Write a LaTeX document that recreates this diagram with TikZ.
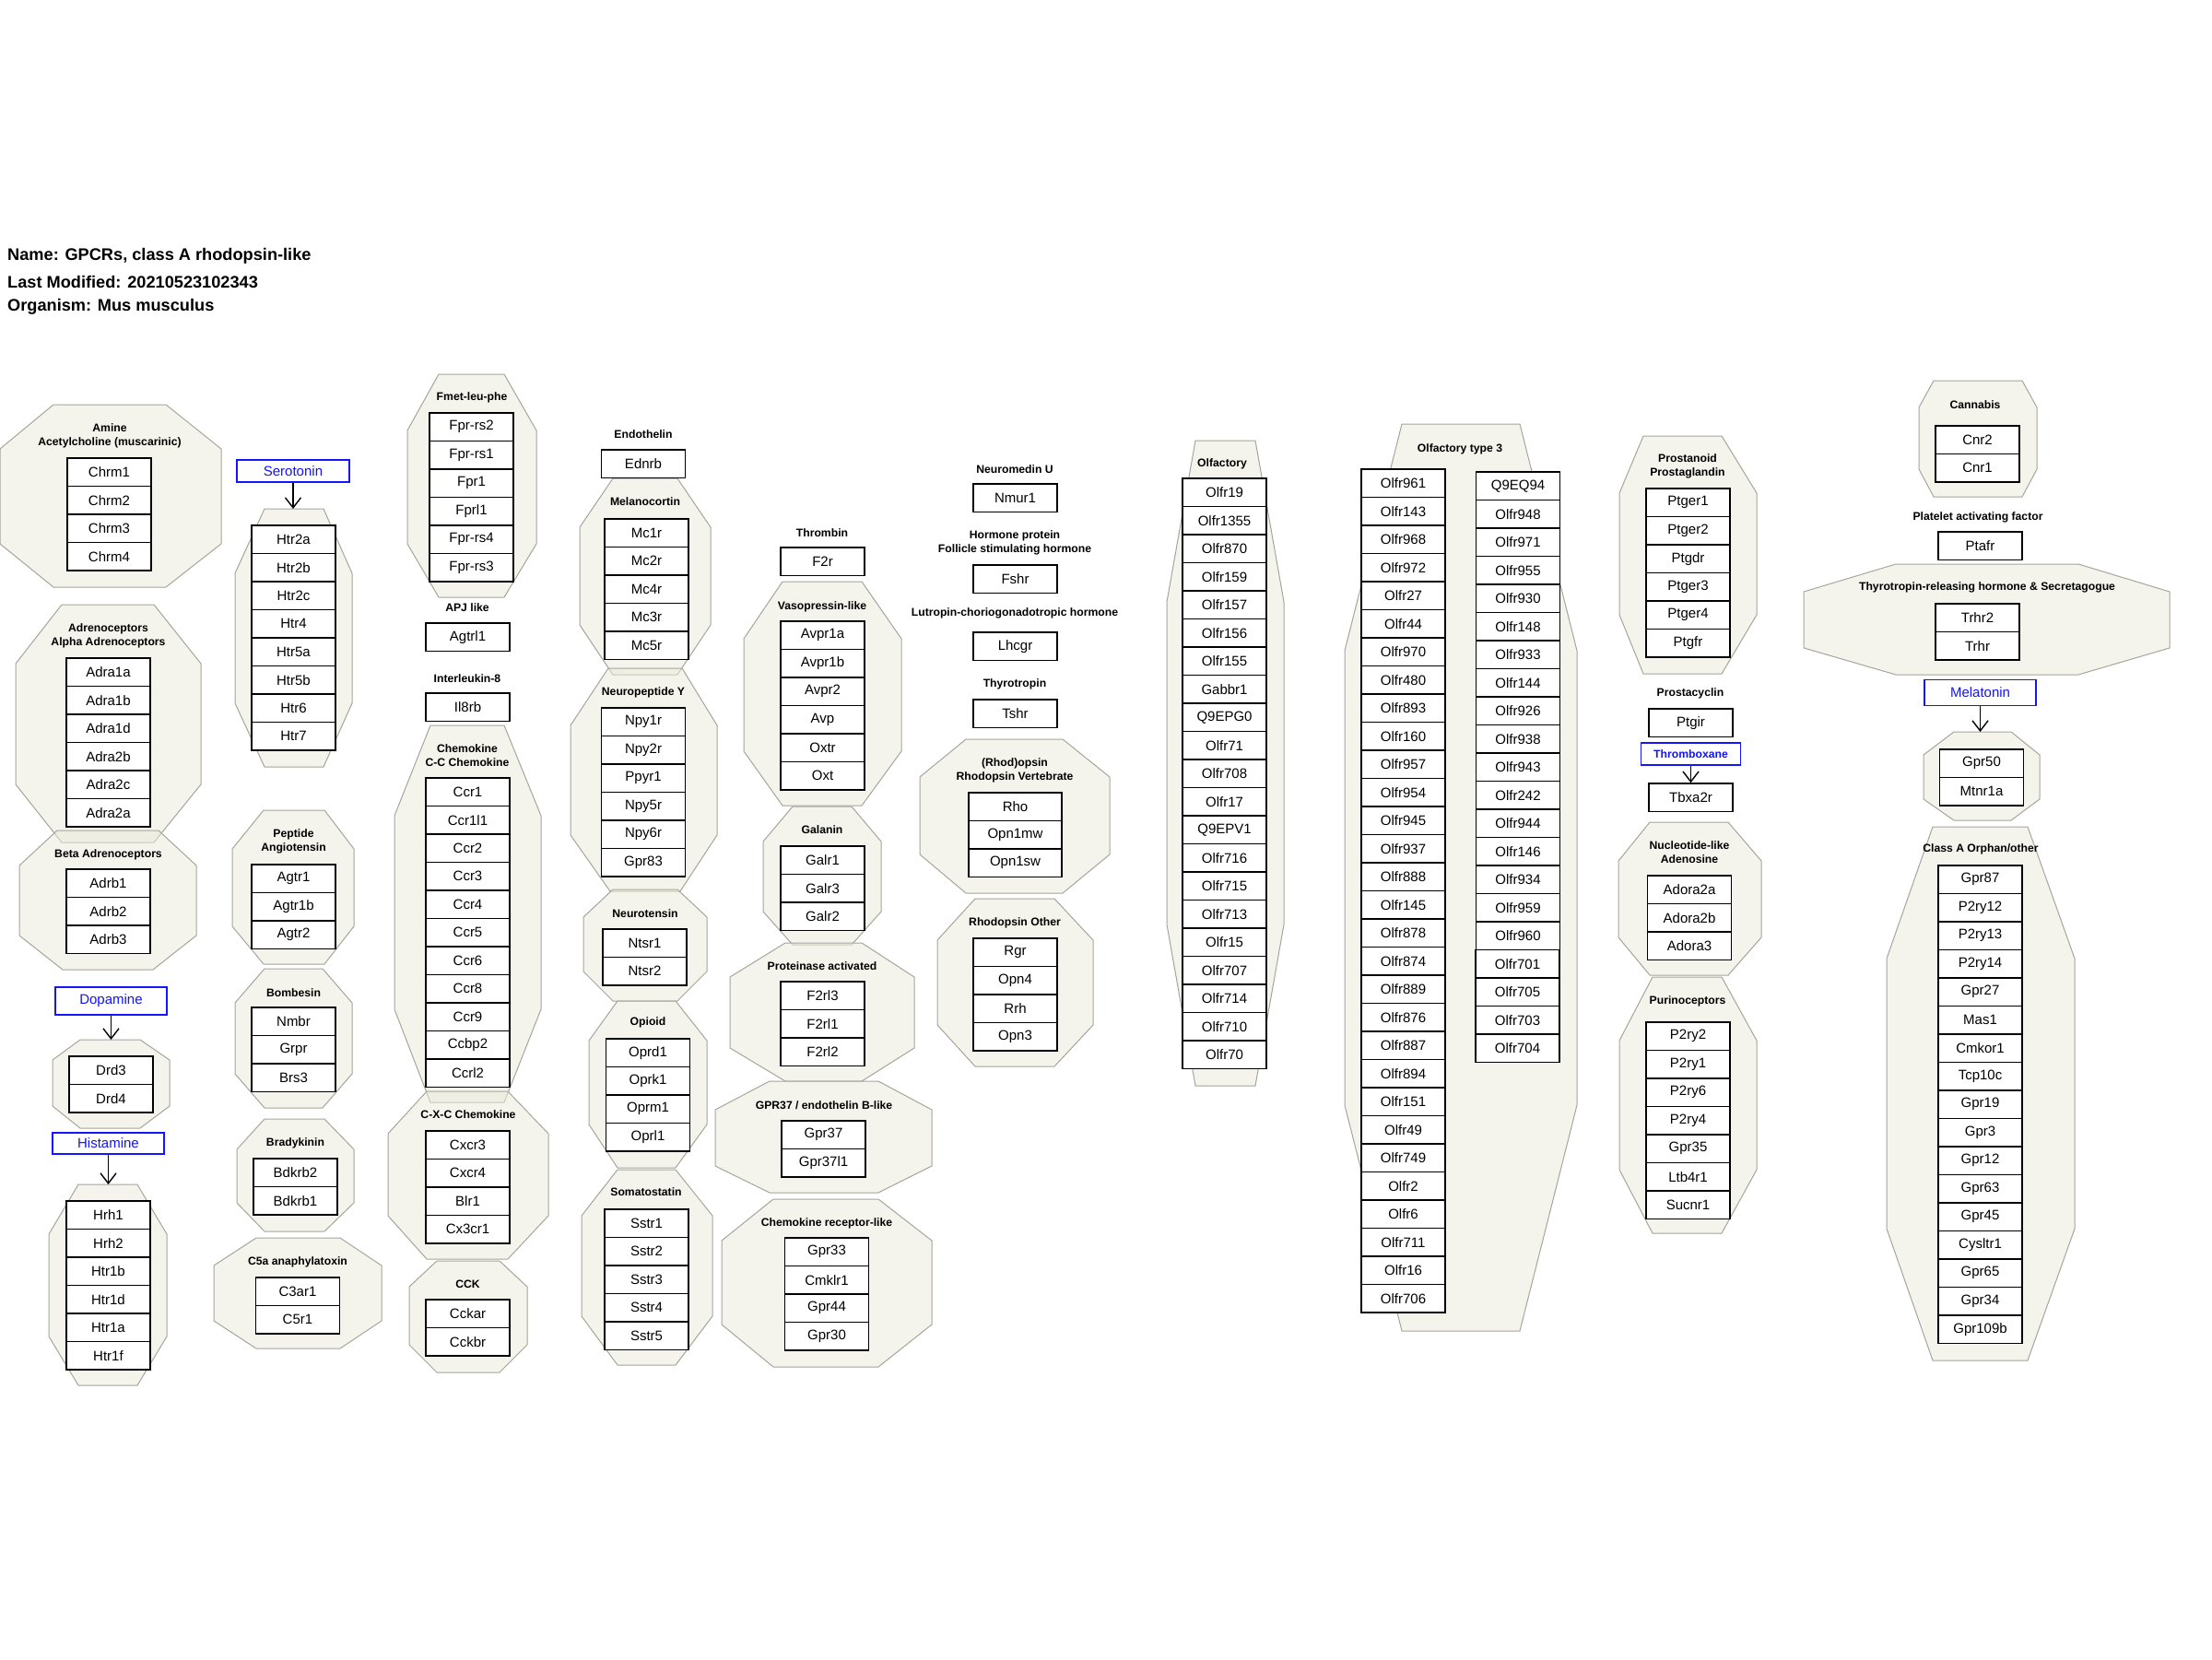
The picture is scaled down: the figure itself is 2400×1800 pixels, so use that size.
\documentclass[tikz,border=0pt]{standalone}
\usepackage{fontspec}
\setmainfont{Liberation Sans}
\usetikzlibrary{arrows.meta}
\definecolor{grpfill}{RGB}{234,234,218}
\definecolor{grpline}{RGB}{165,165,155}
\definecolor{lblblue}{RGB}{20,20,255}
\tikzset{
 grp/.style={fill=grpfill, fill opacity=0.5, draw=grpline, line width=1pt},
 gene/.style={draw=black, fill=white, line width=1.6pt, inner sep=0pt, minimum height=30.5pt, font=\fontsize{15}{15}\selectfont},
 hdr/.style={font=\bfseries\fontsize{12.2}{15}\selectfont, align=center, inner sep=0pt},
 ttl/.style={font=\bfseries\fontsize{18.2}{20}\selectfont, anchor=west, inner sep=0pt},
 lbl/.style={draw=lblblue, text=lblblue, line width=1.3pt, fill=white, inner sep=0pt, font=\fontsize{15}{15}\selectfont},
 link/.style={line width=1.4pt, -{Straight Barb[length=11pt,width=17pt,line width=1.4pt]}}
}
% L R T B tl tr ya yb inset
\newcommand{\octo}[9]{\filldraw[grp] (#5,#3) -- (#6,#3) -- (#2,#7) -- (#2,#8) -- ({#6-#9},#4) -- ({#5+#9},#4) -- (#1,#8) -- (#1,#7) -- cycle;}
% prefix, center x, top y, width, list
\newcommand{\genes}[5]{\foreach \g [count=\i from 0] in {#5} {\node[gene, minimum width=#4pt] (#1-\i) at (#2,{#3+15.25+30.5*\i}) {\g};}}
\begin{document}
\begin{tikzpicture}[x=1pt,y=-1pt]
\fill[white] (0,0) rectangle (2400,1800);
\useasboundingbox (0,0) rectangle (2400,1800);

% title
\node[ttl] (t1) at (8,278) {Name: GPCRs, class A rhodopsin-like};
\node[ttl] (t2) at (8,306) {Last Modified: 20210523102343};
\node[ttl] (t3) at (8,333) {Organism: Mus musculus};

% group octagons
\octo{0}{240}{439}{637}{58}{180}{487}{590}{0}
\octo{17}{218}{656}{914}{67}{167}{720}{851}{0}
\octo{21}{213}{901}{1052}{62}{172}{939}{1015}{6}
\octo{57}{184}{1128}{1224}{87}{152}{1150}{1200}{0}
\octo{53}{181}{1285}{1503}{85}{149}{1339}{1450}{0}
\octo{255}{382}{552}{832}{287}{351}{622}{763}{0}
\octo{252}{384}{879}{1046}{286}{352}{921}{1005}{0}
\octo{255}{382}{1051}{1202}{287}{350}{1088}{1165}{0}
\octo{257}{384}{1214}{1336}{287}{352}{1247}{1305}{0}
\octo{232}{414}{1343}{1463}{278}{369}{1373}{1433}{0}
\octo{442}{582}{406}{648}{476}{547}{467}{590}{0}
\octo{428}{587}{787}{1196}{467}{547}{885}{1095}{0}
\octo{421}{595}{1184}{1366}{463}{551}{1230}{1319}{0}
\octo{444}{572}{1368}{1489}{474}{542}{1396}{1459}{0}
\octo{629}{771}{519}{732}{665}{735}{572}{678}{0}
\octo{619}{778}{725}{967}{660}{740}{787}{906}{2}
\octo{633}{767}{965}{1086}{665}{735}{995}{1054}{0}
\octo{639}{767}{1086}{1267}{670}{733}{1129}{1220}{0}
\octo{631}{773}{1269}{1481}{670}{733}{1319}{1428}{0}
\octo{807}{978}{631}{874}{849}{935}{693}{815}{0}
\octo{828}{956}{875}{1025}{860}{924}{913}{989}{0}
\octo{792}{992}{1023}{1173}{852}{935}{1060}{1137}{0}
\octo{776}{1011}{1173}{1294}{835}{953}{1204}{1265}{0}
\octo{783}{1011}{1301}{1483}{839}{953}{1346}{1437}{0}
\octo{998}{1204}{802}{969}{1048}{1153}{843}{927}{0}
\octo{1017}{1186}{975}{1157}{1058}{1144}{1020}{1112}{0}
\octo{1266}{1393}{478}{1178}{1297}{1362}{653}{1003}{0}
\octo{1459}{1711}{460}{1444}{1521}{1649}{706}{1199}{0}
\octo{1757}{1906}{473}{731}{1783}{1868}{535}{667}{0}
\octo{1756}{1911}{892}{1058}{1790}{1875}{934}{1017}{0}
\octo{1757}{1906}{1060}{1338}{1793}{1868}{1129}{1269}{0}
\octo{2082}{2210}{413}{539}{2098}{2194}{442}{509}{0}
\octo{1957}{2354}{612}{732}{2057}{2255}{642}{703}{0}
\octo{2087}{2213}{794}{890}{2120}{2182}{819}{867}{0}
\octo{2047}{2251}{897}{1476}{2097}{2200}{1040}{1333}{0}

% headers
\node[hdr] (hA) at (119,472.5) {Amine\\Acetylcholine (muscarinic)};
\node[hdr] (hAl) at (117.5,689.5) {Adrenoceptors\\Alpha Adrenoceptors};
\node[hdr] (hB) at (117.5,927) {Beta Adrenoceptors};
\node[hdr] (hPA) at (318.5,913) {Peptide\\Angiotensin};
\node[hdr] (hBo) at (318.5,1077) {Bombesin};
\node[hdr] (hBr) at (320.5,1240) {Bradykinin};
\node[hdr] (hC5) at (323,1369) {C5a anaphylatoxin};
\node[hdr] (hF) at (512,431) {Fmet-leu-phe};
\node[hdr] (hAPJ) at (507,659) {APJ like};
\node[hdr] (hIL) at (507,736) {Interleukin-8};
\node[hdr] (hCC) at (507,819.5) {Chemokine\\C-C Chemokine};
\node[hdr] (hCXC) at (508,1209) {C-X-C Chemokine};
\node[hdr] (hCCK) at (507.5,1393) {CCK};
\node[hdr] (hEn) at (698,471) {Endothelin};
\node[hdr] (hMe) at (700,544) {Melanocortin};
\node[hdr] (hNP) at (698,751) {Neuropeptide Y};
\node[hdr] (hNT) at (700,991) {Neurotensin};
\node[hdr] (hOp) at (703,1109) {Opioid};
\node[hdr] (hSo) at (701,1293) {Somatostatin};
\node[hdr] (hTh) at (892,578) {Thrombin};
\node[hdr] (hVa) at (892,658) {Vasopressin-like};
\node[hdr] (hGa) at (892,900) {Galanin};
\node[hdr] (hPr) at (892,1048) {Proteinase activated};
\node[hdr] (hG37) at (894,1199) {GPR37 / endothelin B-like};
\node[hdr] (hCR) at (897,1327) {Chemokine receptor-like};
\node[hdr] (hNU) at (1101,509) {Neuromedin U};
\node[hdr] (hHP) at (1101,588.5) {Hormone protein\\Follicle stimulating hormone};
\node[hdr] (hLu) at (1101,665) {Lutropin-choriogonadotropic hormone};
\node[hdr] (hTy) at (1101,742) {Thyrotropin};
\node[hdr] (hRV) at (1101,836) {(Rhod)opsin\\Rhodopsin Vertebrate};
\node[hdr] (hRO) at (1101,1001) {Rhodopsin Other};
\node[hdr] (hOl) at (1326,503) {Olfactory};
\node[hdr] (hO3) at (1584,487) {Olfactory type 3};
\node[hdr] (hPP) at (1831,505.5) {Prostanoid\\Prostaglandin};
\node[hdr] (hPc) at (1834,752) {Prostacyclin};
\node[hdr] (hNA) at (1833,925) {Nucleotide-like\\Adenosine};
\node[hdr] (hPu) at (1831,1086) {Purinoceptors};
\node[hdr] (hCa) at (2143,439) {Cannabis};
\node[hdr] (hPl) at (2146,561) {Platelet activating factor};
\node[hdr] (hTR) at (2156,637) {Thyrotropin-releasing hormone \& Secretagogue};
\node[hdr] (hCO) at (2149,921) {Class A Orphan/other};

% gene boxes
\genes{chrm}{118.5}{497}{91}{Chrm1,Chrm2,Chrm3,Chrm4}
\genes{adra}{117.5}{714}{91}{Adra1a,Adra1b,Adra1d,Adra2b,Adra2c,Adra2a}
\genes{adrb}{117.5}{943}{91}{Adrb1,Adrb2,Adrb3}
\genes{drd}{120.5}{1146}{91}{Drd3,Drd4}
\genes{hrh}{117.5}{1303}{91}{Hrh1,Hrh2,Htr1b,Htr1d,Htr1a,Htr1f}
\genes{htr}{318.5}{570}{91}{Htr2a,Htr2b,Htr2c,Htr4,Htr5a,Htr5b,Htr6,Htr7}
\genes{agtr}{318.5}{938}{91}{Agtr1,Agtr1b,Agtr2}
\genes{bomb}{318.5}{1093}{91}{Nmbr,Grpr,Brs3}
\genes{bdk}{320.5}{1257}{91}{Bdkrb2,Bdkrb1}
\genes{c5a}{323}{1386}{91}{C3ar1,C5r1}
\genes{fpr}{511.5}{448}{91}{Fpr-rs2,Fpr-rs1,Fpr1,Fprl1,Fpr-rs4,Fpr-rs3}
\genes{apj}{507.5}{676}{91}{Agtrl1}
\genes{il8}{507.5}{752}{91}{Il8rb}
\genes{ccr}{507.5}{844}{91}{Ccr1,Ccr1l1,Ccr2,Ccr3,Ccr4,Ccr5,Ccr6,Ccr8,Ccr9,Ccbp2,Ccrl2}
\genes{cxcr}{507.5}{1227}{91}{Cxcr3,Cxcr4,Blr1,Cx3cr1}
\genes{cck}{507.5}{1410}{91}{Cckar,Cckbr}
\genes{edn}{698}{488}{91}{Ednrb}
\genes{mc}{701.5}{563}{91}{Mc1r,Mc2r,Mc4r,Mc3r,Mc5r}
\genes{npy}{698}{768}{91}{Npy1r,Npy2r,Ppyr1,Npy5r,Npy6r,Gpr83}
\genes{nts}{699.5}{1008}{91}{Ntsr1,Ntsr2}
\genes{opr}{703}{1127}{91}{Oprd1,Oprk1,Oprm1,Oprl1}
\genes{sst}{701.5}{1312}{91}{Sstr1,Sstr2,Sstr3,Sstr4,Sstr5}
\genes{f2r}{892.5}{594}{91}{F2r}
\genes{avp}{892.5}{674}{91}{Avpr1a,Avpr1b,Avpr2,Avp,Oxtr,Oxt}
\genes{gal}{892.5}{918}{91}{Galr1,Galr3,Galr2}
\genes{f2rl}{892.5}{1065}{91}{F2rl3,F2rl1,F2rl2}
\genes{gpr37}{893.5}{1216}{91}{Gpr37,Gpr37l1}
\genes{crl}{897}{1343}{91}{Gpr33,Cmklr1,Gpr44,Gpr30}
\genes{nmu}{1101.5}{525}{91}{Nmur1}
\genes{fsh}{1101.5}{613}{91}{Fshr}
\genes{lhc}{1101.5}{686}{91}{Lhcgr}
\genes{tsh}{1101.5}{759}{91}{Tshr}
\genes{rho}{1101.5}{860}{101}{Rho,Opn1mw,Opn1sw}
\genes{rgr}{1101.5}{1018}{91}{Rgr,Opn4,Rrh,Opn3}
\genes{olf}{1328.5}{519}{91}{Olfr19,Olfr1355,Olfr870,Olfr159,Olfr157,Olfr156,Olfr155,Gabbr1,Q9EPG0,Olfr71,Olfr708,Olfr17,Q9EPV1,Olfr716,Olfr715,Olfr713,Olfr15,Olfr707,Olfr714,Olfr710,Olfr70}
\genes{olfa}{1522.5}{509}{91}{Olfr961,Olfr143,Olfr968,Olfr972,Olfr27,Olfr44,Olfr970,Olfr480,Olfr893,Olfr160,Olfr957,Olfr954,Olfr945,Olfr937,Olfr888,Olfr145,Olfr878,Olfr874,Olfr889,Olfr876,Olfr887,Olfr894,Olfr151,Olfr49,Olfr749,Olfr2,Olfr6,Olfr711,Olfr16,Olfr706}
\genes{olfb}{1647}{512}{91}{Q9EQ94,Olfr948,Olfr971,Olfr955,Olfr930,Olfr148,Olfr933,Olfr144,Olfr926,Olfr938,Olfr943,Olfr242,Olfr944,Olfr146,Olfr934,Olfr959,Olfr960}
\genes{olfc}{1646.5}{1030.5}{91}{Olfr701,Olfr705,Olfr703,Olfr704}
\genes{ptg}{1831.5}{530}{91}{Ptger1,Ptger2,Ptgdr,Ptger3,Ptger4,Ptgfr}
\genes{pgi}{1834.5}{769}{91}{Ptgir}
\genes{tbx}{1834.5}{850}{91}{Tbxa2r}
\genes{ado}{1833}{950}{91}{Adora2a,Adora2b,Adora3}
\genes{p2y}{1831.5}{1109}{91}{P2ry2,P2ry1,P2ry6,P2ry4,Gpr35,Ltb4r1,Sucnr1}
\genes{cnr}{2145.5}{462}{91}{Cnr2,Cnr1}
\genes{paf}{2148.5}{577}{91}{Ptafr}
\genes{trh}{2145.5}{655}{91}{Trhr2,Trhr}
\genes{mtn}{2150}{813}{91}{Gpr50,Mtnr1a}
\genes{orph}{2148.5}{939}{91}{Gpr87,P2ry12,P2ry13,P2ry14,Gpr27,Mas1,Cmkor1,Tcp10c,Gpr19,Gpr3,Gpr12,Gpr63,Gpr45,Cysltr1,Gpr65,Gpr34,Gpr109b}

% ligand labels
\node[lbl, minimum width=122pt, minimum height=24pt] (lsero) at (318,511) {Serotonin};
\node[lbl, minimum width=121pt, minimum height=30pt] (ldopa) at (120.5,1086) {Dopamine};
\node[lbl, minimum width=121pt, minimum height=23pt] (lhist) at (117.5,1240.5) {Histamine};
\node[lbl, minimum width=108pt, minimum height=24pt, font=\bfseries\fontsize{12.2}{14}\selectfont] (lthx) at (1834.5,818) {Thromboxane};
\node[lbl, minimum width=121pt, minimum height=28pt] (lmel) at (2148.5,751.5) {Melatonin};

\coordinate (seroT) at (318,552);
\coordinate (dopaT) at (120.5,1128);
\coordinate (histT) at (117.5,1285);
\coordinate (melT) at (2148.5,794);

\draw[link] (lsero) -- (seroT);
\draw[link] (ldopa) -- (dopaT);
\draw[link] (lhist) -- (histT);
\draw[link] (lthx) -- (tbx-0);
\draw[link] (lmel) -- (melT);
\end{tikzpicture}
\end{document}
